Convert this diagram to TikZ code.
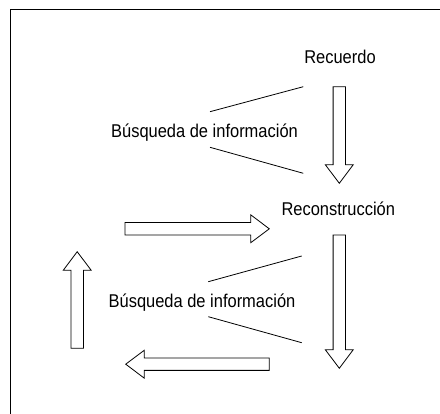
\documentclass[tikz,border=0pt]{standalone}
\usepackage{fontspec}
\setmainfont[FakeStretch=0.89]{Liberation Sans}

\begin{document}
\begin{tikzpicture}[x=1pt,y=-1pt,line width=0.8pt,
    txt/.style={anchor=base,inner sep=0pt,font=\fontsize{18.5}{22}\selectfont}]
    %tikz memoria
\useasboundingbox (0,0) rectangle (440,414);
\draw[line width=1.2pt] (440,9.3) -| (10.3,414);

\newcommand{\fatArrow}[4]{\draw[shift={(#1,#2)},rotate=#3] (0,-6.2) -- (#4-18.5,-6.2) -- (#4-18.5,-13.9) -- (#4,0) -- (#4-18.5,13.9) -- (#4-18.5,6.2) -- (0,6.2) -- cycle;}

\node[txt] (Rec) at (340,63.3) {Recuerdo};
\node[txt] (Busq1) at (204.5,137.3) {Búsqueda de información};
\node[txt] (Recons) at (338.3,215.7) {Reconstrucción};
\node[txt] (Busq2) at (202,307.3) {Búsqueda de información};

\fatArrow{339.3}{86.7}{-90}{96.6}
\fatArrow{339.3}{235}{-90}{133.3}
\fatArrow{125}{228.8}{0}{144.3}
\fatArrow{77.2}{348.3}{90}{96.6}
\fatArrow{269.3}{364.2}{180}{143.6}

\coordinate (B1h) at (210,111.7);
\coordinate (B1b) at (210,147.3);
\coordinate (A1h) at (303.3,86.7);
\coordinate (A1b) at (303.3,173.3);
\draw (B1h) -- (A1h) (B1b) -- (A1b);

\coordinate (B2h) at (208.3,281.7);
\coordinate (B2b) at (208.3,316.7);
\coordinate (A2h) at (301.7,256);
\coordinate (A2b) at (301.7,342.7);
\draw (B2h) -- (A2h) (B2b) -- (A2b);
\end{tikzpicture}
\end{document}
